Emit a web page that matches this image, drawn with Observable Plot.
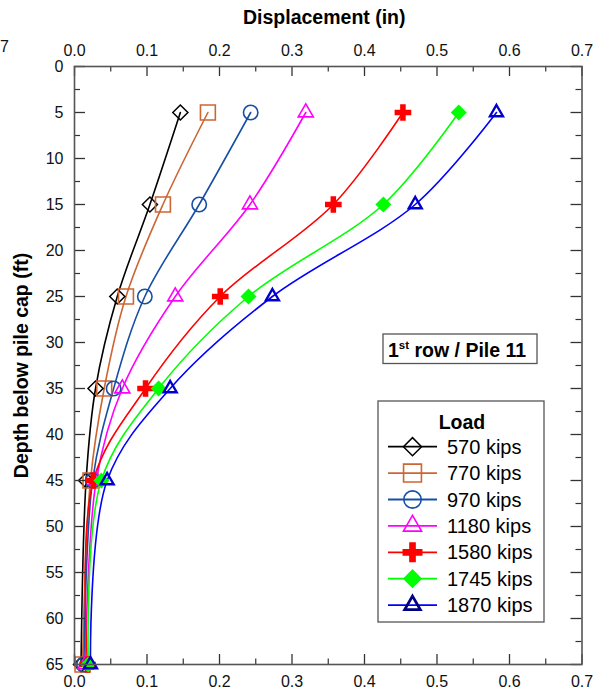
<!DOCTYPE html>
<html><head><meta charset="utf-8">
<script src="https://cdn.jsdelivr.net/npm/d3@7"></script>
<script src="https://cdn.jsdelivr.net/npm/@observablehq/plot@0.6"></script>
<style>
body{margin:0;background:#fff;}
#chart{position:relative;width:605px;height:696px;}
</style></head><body><div id="chart"></div>
<script>
// ---- data ----
const depths = [5, 15, 25, 35, 45, 65];
const loads = ["570 kips", "770 kips", "970 kips", "1180 kips", "1580 kips", "1745 kips", "1870 kips"];
const disp570  = [0.146, 0.104, 0.059, 0.029, 0.016, 0.009];
const disp770  = [0.184, 0.122, 0.071, 0.041, 0.022, 0.011];
const disp970  = [0.243, 0.172, 0.097, 0.054, 0.025, 0.013];
const disp1180 = [0.319, 0.242, 0.139, 0.066, 0.030, 0.015];
const disp1580 = [0.453, 0.357, 0.201, 0.098, 0.026, 0.018];
const disp1745 = [0.530, 0.426, 0.240, 0.116, 0.037, 0.019];
const disp1870 = [0.582, 0.470, 0.273, 0.132, 0.045, 0.022];
const xTicks = [0, 0.1, 0.2, 0.3, 0.4, 0.5, 0.6, 0.7];
const xMinor = [0.05, 0.15, 0.25, 0.35, 0.45, 0.55, 0.65];
const yTicks = [0, 5, 10, 15, 20, 25, 30, 35, 40, 45, 50, 55, 60, 65];
const yMinor = [2.5, 7.5, 12.5, 17.5, 22.5, 27.5, 32.5, 37.5, 42.5, 47.5, 52.5, 57.5, 62.5];
const xTitle = "Displacement (in)";
const yTitle = "Depth below pile cap (ft)";
const noteText = ["1", "st", " row / Pile 11"];
const legendTitle = "Load";
const strayLabel = "7";

// ---- styles ----
const series = [disp570, disp770, disp970, disp1180, disp1580, disp1745, disp1870];
const lineColors = ["#000000", "#CC6633", "#174EA6", "#FF00FF", "#FF0000", "#00FF00", "#0000FF"];
const markStyle = [
  {symbol: "diamond2", r: 6.8, fill: "none", stroke: "#000000", strokeWidth: 1.5},
  {symbol: "square", r: 8.4, fill: "none", stroke: "#CC6633", strokeWidth: 1.6},
  {symbol: "circle", r: 7.2, fill: "none", stroke: "#174EA6", strokeWidth: 1.6},
  {symbol: "triangle2", r: 7.2, fill: "none", stroke: "#FF00FF", strokeWidth: 1.6},
  {symbol: "cross", r: 7.0, fill: "#FF0000", stroke: "none", strokeWidth: 0},
  {symbol: "diamond2", r: 7.2, fill: "#00FF00", stroke: "none", strokeWidth: 0},
  {symbol: "triangle2", r: 6.2, fill: "none", stroke: "#0000CC", strokeWidth: 2.4}
];
const d3Sym = {diamond2: d3.symbolDiamond2, square: d3.symbolSquare, circle: d3.symbolCircle,
  triangle2: d3.symbolTriangle2, cross: d3.symbolCross};

const W = 605, H = 696, mL = 74, mR = 23.5, mT = 66, mB = 32;
const fh = H - mT - mB, fw = W - mL - mR;

const rows = loads.flatMap((load, i) => series[i].map((x, j) => ({load, x, depth: depths[j]})));

const font = "'Liberation Sans', Arial, sans-serif";
const tickColor = "#333";

const marks = [
  Plot.line(rows, {x: "x", y: "depth", z: "load", stroke: "load", curve: "catmull-rom", strokeWidth: 1.6}),
  ...loads.map((load, i) => Plot.dot(rows.filter(d => d.load === load), {
    x: "x", y: "depth", ...markStyle[i]
  })),
  // inward ticks
  Plot.tickX(xTicks, {x: d => d, insetBottom: fh - 10, stroke: tickColor, strokeWidth: 1.3}),
  Plot.tickX(xMinor, {x: d => d, insetBottom: fh - 5.5, stroke: tickColor, strokeWidth: 1.2}),
  Plot.tickX(xTicks, {x: d => d, insetTop: fh - 10, stroke: tickColor, strokeWidth: 1.3}),
  Plot.tickX(xMinor, {x: d => d, insetTop: fh - 5.5, stroke: tickColor, strokeWidth: 1.2}),
  Plot.tickY(yTicks, {y: d => d, insetRight: fw - 11, stroke: tickColor, strokeWidth: 1.3}),
  Plot.tickY(yMinor, {y: d => d, insetRight: fw - 6, stroke: tickColor, strokeWidth: 1.2}),
  Plot.tickY(yTicks, {y: d => d, insetLeft: fw - 11, stroke: tickColor, strokeWidth: 1.3}),
  Plot.tickY(yMinor, {y: d => d, insetLeft: fw - 6, stroke: tickColor, strokeWidth: 1.2}),
  Plot.frame({stroke: "#555", strokeWidth: 1.6}),
  Plot.axisX(xTicks, {anchor: "top", tickSize: 0, tickPadding: 11, fontSize: 16, label: null, fill: "#111"}),
  Plot.axisX(xTicks, {anchor: "bottom", tickSize: 0, tickPadding: 11, fontSize: 16, label: null, fill: "#111"}),
  Plot.axisY(yTicks, {anchor: "left", tickSize: 0, tickPadding: 11, fontSize: 16, label: null, fill: "#111"}),
  Plot.text([xTitle], {frameAnchor: "top", lineAnchor: "middle", textAnchor: "middle", dy: -49, dx: -4,
    fontWeight: "bold", fontSize: 19.5, fill: "#000"}),
  Plot.text([yTitle], {frameAnchor: "left", lineAnchor: "middle", textAnchor: "middle", dx: -53, rotate: -90,
    fontWeight: "bold", fontSize: 19.5, fill: "#000"})
];

const chart = Plot.plot({
  width: W, height: H,
  marginLeft: mL, marginRight: mR, marginTop: mT, marginBottom: mB,
  style: {fontFamily: font, fontSize: "16px", background: "#fff", color: "#000", overflow: "visible"},
  x: {domain: [0, 0.7], axis: null},
  y: {domain: [0, 65], reverse: true, axis: null},
  color: {domain: loads, range: lineColors},
  marks
});
document.getElementById("chart").appendChild(chart);

// ---- annotations (legend + note) ----
const svg = d3.select(chart);
svg.append("text").attr("x", 0).attr("y", 52).attr("font-size", 16).attr("text-anchor", "start")
  .attr("font-family", font).attr("fill", "#111").text(strayLabel);

const note = svg.append("g").attr("text-anchor", "start");
note.append("rect").attr("x", 383).attr("y", 334).attr("width", 154).attr("height", 29.5)
  .attr("fill", "#fff").attr("stroke", "#555").attr("stroke-width", 1.3);
const nt = note.append("text").attr("x", 388).attr("y", 357).attr("font-family", font)
  .attr("text-anchor", "start")
  .attr("font-weight", "bold").attr("font-size", 19.5).attr("fill", "#000");
nt.append("tspan").text(noteText[0]);
nt.append("tspan").attr("font-size", 11.5).attr("dy", -8).text(noteText[1]);
nt.append("tspan").attr("dy", 8).text(noteText[2]);

const lg = svg.append("g").attr("text-anchor", "start");
lg.append("rect").attr("x", 378).attr("y", 401).attr("width", 166).attr("height", 221)
  .attr("fill", "#fff").attr("stroke", "#555").attr("stroke-width", 1.3);
lg.append("text").attr("x", 462).attr("y", 429).attr("text-anchor", "middle")
  .attr("font-family", font).attr("font-weight", "bold").attr("font-size", 19.5).text(legendTitle);
const legendMarkStroke = ["#000000", "#CC6633", "#174EA6", "#FF00FF", "#FF0000", "#00FF00", "#000080"];
loads.forEach((load, i) => {
  const cy = 446.7 + 26.4 * i;
  lg.append("line").attr("x1", 388).attr("x2", 437).attr("y1", cy).attr("y2", cy)
    .attr("stroke", lineColors[i]).attr("stroke-width", 1.8);
  const m = markStyle[i];
  const rr = m.r * 1.2;
  lg.append("path").attr("transform", `translate(412.5,${cy})`)
    .attr("d", d3.symbol(d3Sym[m.symbol], Math.PI * rr * rr)())
    .attr("fill", m.fill === "none" ? "none" : m.fill)
    .attr("stroke", m.stroke === "none" ? "none" : legendMarkStroke[i])
    .attr("stroke-width", i === 6 ? 2.8 : m.strokeWidth);
  lg.append("text").attr("x", 447).attr("y", cy + 7).attr("font-family", font)
    .attr("text-anchor", "start")
    .attr("font-size", 20).attr("fill", "#000").text(load);
});
</script>
</body></html>
